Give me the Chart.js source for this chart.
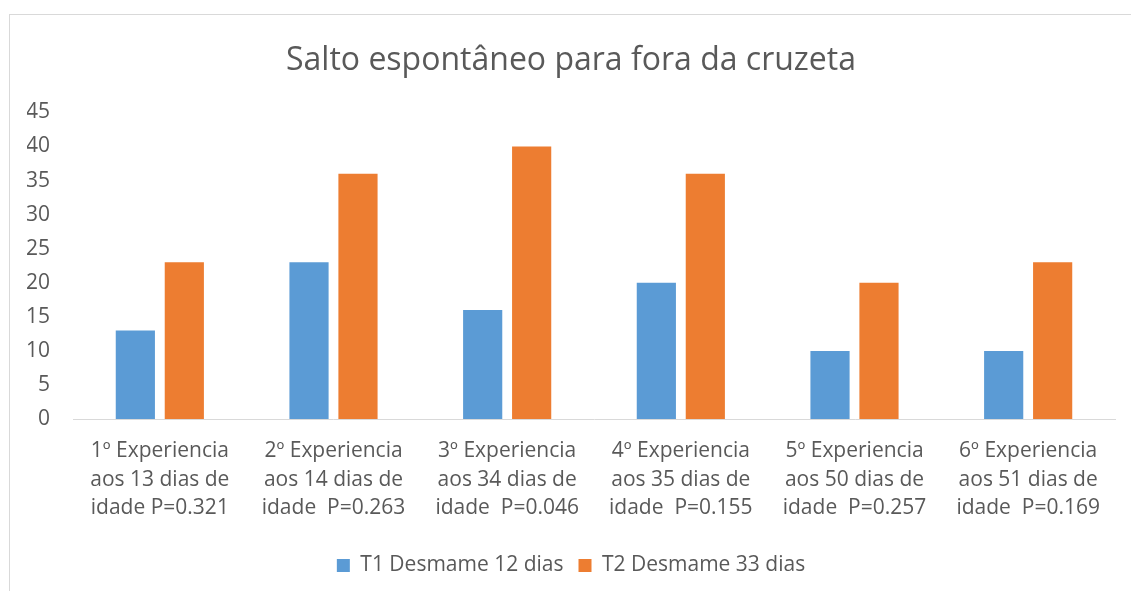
<!DOCTYPE html>
<html>
<head>
<meta charset="utf-8">
<script src="https://cdn.jsdelivr.net/npm/chart.js"></script>
<style>
body{margin:0;background:#fff;overflow:hidden;width:1131px;height:591px;position:relative}
.frame{position:absolute;left:9px;top:14px;width:1140px;height:590px;border-left:1px solid #d9d9d9;border-top:1px solid #d9d9d9}
.wrap{position:absolute;left:10px;top:15px;width:1132px;height:576px}
</style>
</head>
<body>
<div class="frame"></div>
<div class="wrap"><canvas id="chart"></canvas></div>

<script>
/* =========================
   DATA
========================= */
const categories = [
  ["1º Experiencia", "aos 13 dias de", "idade P=0.321"],
  ["2º Experiencia", "aos 14 dias de", "idade  P=0.263"],
  ["3º Experiencia", "aos 34 dias de", "idade  P=0.046"],
  ["4º Experiencia", "aos 35 dias de", "idade  P=0.155"],
  ["5º Experiencia", "aos 50 dias de", "idade  P=0.257"],
  ["6º Experiencia", "aos 51 dias de", "idade  P=0.169"]
];
const t1Values = [13, 23, 16, 20, 10, 10];
const t2Values = [23, 36, 40, 36, 20, 23];
const seriesNames = ["T1 Desmame 12 dias", "T2 Desmame 33 dias"];
const yTicks = [0, 5, 10, 15, 20, 25, 30, 35, 40, 45];

/* =========================
   CHART
========================= */
const TEXT = "#595959";
const FONT = "'Open Sans', sans-serif";

new Chart(document.getElementById("chart"), {
  type: "bar",
  data: {
    labels: categories,
    datasets: [
      {label: seriesNames[0], data: t1Values, backgroundColor: "#5B9BD5",
       barPercentage: 0.8, categoryPercentage: 0.564},
      {label: seriesNames[1], data: t2Values, backgroundColor: "#ED7D31",
       barPercentage: 0.8, categoryPercentage: 0.564}
    ]
  },
  options: {
    responsive: true,
    maintainAspectRatio: false,
    animation: false,
    // left padding pushes title/legend centre right; y labels still fit in the scale box
    layout: {padding: {left: 17, right: 27, top: 0, bottom: 5}},
    plugins: {
      title: {
        display: true,
        text: "Salto espontâneo para fora da cruzeta",
        color: TEXT,
        font: {family: FONT, size: 32, weight: "normal"},
        padding: {top: 27, bottom: 32}
      },
      legend: {
        position: "bottom",
        labels: {
          color: TEXT,
          font: {family: FONT, size: 21},
          boxWidth: 13,
          boxHeight: 13,
          padding: 15
        }
      },
      tooltip: {enabled: false}
    },
    scales: {
      x: {
        grid: {display: false, drawTicks: false},
        border: {display: true, color: "#d9d9d9", width: 1},
        ticks: {
          color: TEXT,
          font: {family: FONT, size: 21, lineHeight: 1.38},
          padding: 17,
          maxRotation: 0,
          autoSkip: false
        }
      },
      y: {
        min: 0,
        max: 45,
        afterBuildTicks: s => { s.ticks = yTicks.map(v => ({value: v})); },
        afterFit: s => { s.width = 46; },
        grid: {display: false, drawTicks: false},
        border: {display: false},
        ticks: {
          color: TEXT,
          font: {family: FONT, size: 21},
          padding: 23
        }
      }
    }
  }
});
</script>
</body>
</html>
